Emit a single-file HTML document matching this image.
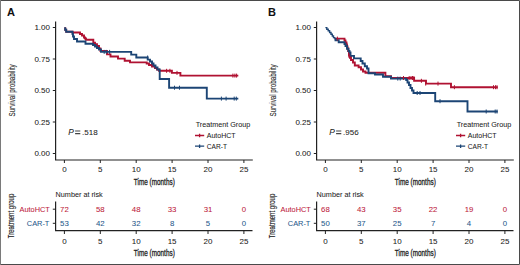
<!DOCTYPE html>
<html><head><meta charset="utf-8"><style>
html,body{margin:0;padding:0;background:#fff;}
svg{display:block;font-family:"Liberation Sans",sans-serif;}
</style></head><body>
<svg width="520" height="265" viewBox="0 0 520 265">
<rect x="0" y="0" width="520" height="265" fill="#fff"/>
<g transform="translate(0,0)">
<text x="7" y="15.6" font-size="11" font-weight="bold" fill="#111" stroke="#111" stroke-width="0.05">A</text>
<path d="M55.6,21.5 V160 H252.8" fill="none" stroke="#222" stroke-width="1.2"/>
<path d="M52.8,27.5 H55.6" stroke="#222" stroke-width="1"/>
<text x="50" y="30.3" font-size="8" text-anchor="end" fill="#222" stroke="#222" stroke-width="0.05">1.00</text>
<path d="M52.8,59.0 H55.6" stroke="#222" stroke-width="1"/>
<text x="50" y="61.8" font-size="8" text-anchor="end" fill="#222" stroke="#222" stroke-width="0.05">0.75</text>
<path d="M52.8,90.5 H55.6" stroke="#222" stroke-width="1"/>
<text x="50" y="93.3" font-size="8" text-anchor="end" fill="#222" stroke="#222" stroke-width="0.05">0.50</text>
<path d="M52.8,122.0 H55.6" stroke="#222" stroke-width="1"/>
<text x="50" y="124.8" font-size="8" text-anchor="end" fill="#222" stroke="#222" stroke-width="0.05">0.25</text>
<path d="M52.8,153.5 H55.6" stroke="#222" stroke-width="1"/>
<text x="50" y="156.3" font-size="8" text-anchor="end" fill="#222" stroke="#222" stroke-width="0.05">0.00</text>
<path d="M64.4,160 V163" stroke="#222" stroke-width="1"/>
<text x="64.4" y="172.1" font-size="8" text-anchor="middle" fill="#222" stroke="#222" stroke-width="0.05">0</text>
<path d="M100.3,160 V163" stroke="#222" stroke-width="1"/>
<text x="100.3" y="172.1" font-size="8" text-anchor="middle" fill="#222" stroke="#222" stroke-width="0.05">5</text>
<path d="M136.2,160 V163" stroke="#222" stroke-width="1"/>
<text x="136.2" y="172.1" font-size="8" text-anchor="middle" fill="#222" stroke="#222" stroke-width="0.05">10</text>
<path d="M172.1,160 V163" stroke="#222" stroke-width="1"/>
<text x="172.1" y="172.1" font-size="8" text-anchor="middle" fill="#222" stroke="#222" stroke-width="0.05">15</text>
<path d="M208.0,160 V163" stroke="#222" stroke-width="1"/>
<text x="208.0" y="172.1" font-size="8" text-anchor="middle" fill="#222" stroke="#222" stroke-width="0.05">20</text>
<path d="M243.9,160 V163" stroke="#222" stroke-width="1"/>
<text x="243.9" y="172.1" font-size="8" text-anchor="middle" fill="#222" stroke="#222" stroke-width="0.05">25</text>
<text transform="translate(154.3,185.4) scale(0.78,1)" font-size="8.2" text-anchor="middle" fill="#222" stroke="#222" stroke-width="0.28">Time (months)</text>
<text transform="translate(14.5,90.4) rotate(-90) scale(0.76,1)" font-size="8.2" text-anchor="middle" fill="#222" stroke="#222" stroke-width="0.1">Survival probability</text>
<path d="M65.2,27.3 V29.8 H66.2 V31.8 H72.5 V32.5 H80 V34 H82 V35.5 H84 V37.5 H85 V38.5 H86 V39.75 H93.3 V42.7 H95 V44.3 H97 V46 H99 V48.5 H100.5 V51 H107 V54.4 H110.5 V56.5 H118 V58.6 H124.7 V60.7 H130 V62.4 H146.7 V63.5 H149 V65 H152 V66.5 H155 V68 H157 V69.5 H159 V70.8 H171.9 V72.9 H180.4 V75.6 H238.3" fill="none" stroke="#b01232" stroke-width="1.9"/>
<path d="M65.2,27.3 V29.8 H66.2 V31.8 H72.5 V34 H73 V36.5 H74 V39 H77 V41.5 H85.5 V43.8 H93 V45 H95 V46.5 H97 V48 H99 V49.5 H101 V51.9 H131.2 V54.6 H136.3 V57.5 H147.7 V59.6 H150 V61.5 H152 V63.5 H153.5 V65.5 H155.5 V67.5 H157.5 V69.5 H159.7 V79 H169.1 V87.7 H206.8 V98.6 H238.3" fill="none" stroke="#1c4575" stroke-width="1.9"/>
<path d="M166.6,68.8 V72.8" stroke="#b01232" stroke-width="1"/>
<path d="M169.9,68.8 V72.8" stroke="#b01232" stroke-width="1"/>
<path d="M177,70.9 V74.9" stroke="#b01232" stroke-width="1"/>
<path d="M232.9,73.6 V77.6" stroke="#b01232" stroke-width="1"/>
<path d="M234.9,73.6 V77.6" stroke="#b01232" stroke-width="1"/>
<path d="M236.6,73.6 V77.6" stroke="#b01232" stroke-width="1"/>
<path d="M104.2,49.9 V53.9" stroke="#1c4575" stroke-width="1"/>
<path d="M106.3,49.9 V53.9" stroke="#1c4575" stroke-width="1"/>
<path d="M109.6,49.9 V53.9" stroke="#1c4575" stroke-width="1"/>
<path d="M147.6,55.5 V59.5" stroke="#1c4575" stroke-width="1"/>
<path d="M174.5,85.7 V89.7" stroke="#1c4575" stroke-width="1"/>
<path d="M179.5,85.7 V89.7" stroke="#1c4575" stroke-width="1"/>
<path d="M221.4,96.6 V100.6" stroke="#1c4575" stroke-width="1"/>
<path d="M226.1,96.6 V100.6" stroke="#1c4575" stroke-width="1"/>
<path d="M234.2,96.6 V100.6" stroke="#1c4575" stroke-width="1"/>
<path d="M236.3,96.6 V100.6" stroke="#1c4575" stroke-width="1"/>
<text x="68.3" y="135.2" font-size="8.4" font-style="italic" fill="#222" stroke="#222" stroke-width="0.05">P</text>
<path d="M75.1,131 H80.3 M75.1,133.6 H80.3" stroke="#444" stroke-width="1.1"/>
<text x="82.1" y="135.3" font-size="8" fill="#222" stroke="#222" stroke-width="0.05">.518</text>
<text x="195.7" y="126.9" font-size="7.6" textLength="54.6" lengthAdjust="spacingAndGlyphs" fill="#222" stroke="#222" stroke-width="0.05">Treatment Group</text>
<path d="M195,135.5 H204.2 M199.6,133.8 V137.3" stroke="#b01232" stroke-width="1.3" fill="none"/>
<text x="206.8" y="138.2" font-size="7.4" textLength="28.8" lengthAdjust="spacingAndGlyphs" fill="#222" stroke="#222" stroke-width="0.05">AutoHCT</text>
<path d="M195,146.2 H204.2 M199.6,144.4 V147.9" stroke="#1c4575" stroke-width="1.3" fill="none"/>
<text x="206.8" y="148.8" font-size="7.4" textLength="20.2" lengthAdjust="spacingAndGlyphs" fill="#222" stroke="#222" stroke-width="0.05">CAR-T</text>
<text x="55.6" y="196.5" font-size="7.25" fill="#222" stroke="#222" stroke-width="0.05">Number at risk</text>
<path d="M55.6,201.6 V230.6 H252.5" fill="none" stroke="#222" stroke-width="1.2"/>
<path d="M52.8,209.2 H55.6" stroke="#222" stroke-width="1"/>
<path d="M52.8,223.3 H55.6" stroke="#222" stroke-width="1"/>
<text x="49.9" y="211.8" font-size="7.4" text-anchor="end" fill="#bd1a3a" stroke="#bd1a3a" stroke-width="0.05">AutoHCT</text>
<text x="49.4" y="225.9" font-size="7.4" text-anchor="end" fill="#27598c" stroke="#27598c" stroke-width="0.05">CAR-T</text>
<text x="64.4" y="212" font-size="7.8" text-anchor="middle" fill="#bd1a3a" stroke="#bd1a3a" stroke-width="0.05">72</text>
<text x="64.4" y="226" font-size="7.8" text-anchor="middle" fill="#27598c" stroke="#27598c" stroke-width="0.05">53</text>
<path d="M64.4,230.5 V234" stroke="#222" stroke-width="1"/>
<text x="64.4" y="243.8" font-size="8" text-anchor="middle" fill="#222" stroke="#222" stroke-width="0.05">0</text>
<text x="100.3" y="212" font-size="7.8" text-anchor="middle" fill="#bd1a3a" stroke="#bd1a3a" stroke-width="0.05">58</text>
<text x="100.3" y="226" font-size="7.8" text-anchor="middle" fill="#27598c" stroke="#27598c" stroke-width="0.05">42</text>
<path d="M100.3,230.5 V234" stroke="#222" stroke-width="1"/>
<text x="100.3" y="243.8" font-size="8" text-anchor="middle" fill="#222" stroke="#222" stroke-width="0.05">5</text>
<text x="136.2" y="212" font-size="7.8" text-anchor="middle" fill="#bd1a3a" stroke="#bd1a3a" stroke-width="0.05">48</text>
<text x="136.2" y="226" font-size="7.8" text-anchor="middle" fill="#27598c" stroke="#27598c" stroke-width="0.05">32</text>
<path d="M136.2,230.5 V234" stroke="#222" stroke-width="1"/>
<text x="136.2" y="243.8" font-size="8" text-anchor="middle" fill="#222" stroke="#222" stroke-width="0.05">10</text>
<text x="172.1" y="212" font-size="7.8" text-anchor="middle" fill="#bd1a3a" stroke="#bd1a3a" stroke-width="0.05">33</text>
<text x="172.1" y="226" font-size="7.8" text-anchor="middle" fill="#27598c" stroke="#27598c" stroke-width="0.05">8</text>
<path d="M172.1,230.5 V234" stroke="#222" stroke-width="1"/>
<text x="172.1" y="243.8" font-size="8" text-anchor="middle" fill="#222" stroke="#222" stroke-width="0.05">15</text>
<text x="208.0" y="212" font-size="7.8" text-anchor="middle" fill="#bd1a3a" stroke="#bd1a3a" stroke-width="0.05">31</text>
<text x="208.0" y="226" font-size="7.8" text-anchor="middle" fill="#27598c" stroke="#27598c" stroke-width="0.05">5</text>
<path d="M208.0,230.5 V234" stroke="#222" stroke-width="1"/>
<text x="208.0" y="243.8" font-size="8" text-anchor="middle" fill="#222" stroke="#222" stroke-width="0.05">20</text>
<text x="243.9" y="212" font-size="7.8" text-anchor="middle" fill="#bd1a3a" stroke="#bd1a3a" stroke-width="0.05">0</text>
<text x="243.9" y="226" font-size="7.8" text-anchor="middle" fill="#27598c" stroke="#27598c" stroke-width="0.05">0</text>
<path d="M243.9,230.5 V234" stroke="#222" stroke-width="1"/>
<text x="243.9" y="243.8" font-size="8" text-anchor="middle" fill="#222" stroke="#222" stroke-width="0.05">25</text>
<text transform="translate(154.3,255.5) scale(0.78,1)" font-size="8.2" text-anchor="middle" fill="#222" stroke="#222" stroke-width="0.28">Time (months)</text>
<text transform="translate(14,216) rotate(-90) scale(0.74,1)" font-size="8.2" text-anchor="middle" fill="#222" stroke="#222" stroke-width="0.12">Treatment group</text>
</g>
<g transform="translate(261,0)">
<text x="7" y="15.6" font-size="11" font-weight="bold" fill="#111" stroke="#111" stroke-width="0.05">B</text>
<path d="M55.6,21.5 V160 H252.8" fill="none" stroke="#222" stroke-width="1.2"/>
<path d="M52.8,27.5 H55.6" stroke="#222" stroke-width="1"/>
<text x="50" y="30.3" font-size="8" text-anchor="end" fill="#222" stroke="#222" stroke-width="0.05">1.00</text>
<path d="M52.8,59.0 H55.6" stroke="#222" stroke-width="1"/>
<text x="50" y="61.8" font-size="8" text-anchor="end" fill="#222" stroke="#222" stroke-width="0.05">0.75</text>
<path d="M52.8,90.5 H55.6" stroke="#222" stroke-width="1"/>
<text x="50" y="93.3" font-size="8" text-anchor="end" fill="#222" stroke="#222" stroke-width="0.05">0.50</text>
<path d="M52.8,122.0 H55.6" stroke="#222" stroke-width="1"/>
<text x="50" y="124.8" font-size="8" text-anchor="end" fill="#222" stroke="#222" stroke-width="0.05">0.25</text>
<path d="M52.8,153.5 H55.6" stroke="#222" stroke-width="1"/>
<text x="50" y="156.3" font-size="8" text-anchor="end" fill="#222" stroke="#222" stroke-width="0.05">0.00</text>
<path d="M64.4,160 V163" stroke="#222" stroke-width="1"/>
<text x="64.4" y="172.1" font-size="8" text-anchor="middle" fill="#222" stroke="#222" stroke-width="0.05">0</text>
<path d="M100.3,160 V163" stroke="#222" stroke-width="1"/>
<text x="100.3" y="172.1" font-size="8" text-anchor="middle" fill="#222" stroke="#222" stroke-width="0.05">5</text>
<path d="M136.2,160 V163" stroke="#222" stroke-width="1"/>
<text x="136.2" y="172.1" font-size="8" text-anchor="middle" fill="#222" stroke="#222" stroke-width="0.05">10</text>
<path d="M172.1,160 V163" stroke="#222" stroke-width="1"/>
<text x="172.1" y="172.1" font-size="8" text-anchor="middle" fill="#222" stroke="#222" stroke-width="0.05">15</text>
<path d="M208.0,160 V163" stroke="#222" stroke-width="1"/>
<text x="208.0" y="172.1" font-size="8" text-anchor="middle" fill="#222" stroke="#222" stroke-width="0.05">20</text>
<path d="M243.9,160 V163" stroke="#222" stroke-width="1"/>
<text x="243.9" y="172.1" font-size="8" text-anchor="middle" fill="#222" stroke="#222" stroke-width="0.05">25</text>
<text transform="translate(154.3,185.4) scale(0.78,1)" font-size="8.2" text-anchor="middle" fill="#222" stroke="#222" stroke-width="0.28">Time (months)</text>
<text transform="translate(14.5,90.4) rotate(-90) scale(0.76,1)" font-size="8.2" text-anchor="middle" fill="#222" stroke="#222" stroke-width="0.1">Survival probability</text>
<path d="M73.5,38.6 H83.5 V40.5 H84.5 V42.5 H85.5 V44.5 H86 V46.5 H86.5 V48.5 H87.2 V51 H88 V54.7 H88.5 V57 H90 V60 H92 V62.5 H93.8 V65.5 H97.6 V67.2 H100 V69.5 H102 V71.5 H104.5 V72.8 H124.4 V76.2 H130 V78 H153.1 V80.8 H165 V83.6 H190 V87.2 H236.8" fill="none" stroke="#b01232" stroke-width="1.9"/>
<path d="M73.5,38.6 H74.5 V40.3 H77.7 V42.3 H83.5 V44 H84.5 V46 H86 V48.8 H87.5 V51 H88.5 V52.5 H89.5 V55.9 H93 V58.4 H99.7 V61 H101.5 V63.5 H103.8 V66.3 H106 V68.5 H107.5 V73.2 H114 V74.5 H122 V76.7 H130 V78.6 H145.2 V80 H146.5 V82.5 H148 V85 H149.5 V88 H151 V90.5 H152.5 V93 H174.2 V101.2 H206.5 V111.5 H236.8" fill="none" stroke="#1c4575" stroke-width="1.9"/>
<path d="M64.4,27.6 H65.8 V29.2 H67.2 V30.8 H68.6 V32.5 H70 V34.3 H71.3 V36 H72.5 V37.6 H73.5 V38.6" fill="none" stroke="#1c4575" stroke-width="1.4"/>
<path d="M76.4,36.6 V40.6" stroke="#b01232" stroke-width="1"/>
<path d="M87.7,52.7 V56.7" stroke="#b01232" stroke-width="1"/>
<path d="M88.7,55 V59" stroke="#b01232" stroke-width="1"/>
<path d="M142.5,76 V80" stroke="#b01232" stroke-width="1"/>
<path d="M148.2,76 V80" stroke="#b01232" stroke-width="1"/>
<path d="M150,76 V80" stroke="#b01232" stroke-width="1"/>
<path d="M151.5,76 V80" stroke="#b01232" stroke-width="1"/>
<path d="M152.9,76 V80" stroke="#b01232" stroke-width="1"/>
<path d="M160.4,78.8 V82.8" stroke="#b01232" stroke-width="1"/>
<path d="M164.7,81.6 V85.6" stroke="#b01232" stroke-width="1"/>
<path d="M177,81.6 V85.6" stroke="#b01232" stroke-width="1"/>
<path d="M193.4,85.2 V89.2" stroke="#b01232" stroke-width="1"/>
<path d="M232.5,85.2 V89.2" stroke="#b01232" stroke-width="1"/>
<path d="M234.5,85.2 V89.2" stroke="#b01232" stroke-width="1"/>
<path d="M236,85.2 V89.2" stroke="#b01232" stroke-width="1"/>
<path d="M136.8,76.6 V80.6" stroke="#1c4575" stroke-width="1"/>
<path d="M139.2,76.6 V80.6" stroke="#1c4575" stroke-width="1"/>
<path d="M156.2,91 V95" stroke="#1c4575" stroke-width="1"/>
<path d="M159,91 V95" stroke="#1c4575" stroke-width="1"/>
<path d="M179,99.2 V103.2" stroke="#1c4575" stroke-width="1"/>
<path d="M225.2,109.5 V113.5" stroke="#1c4575" stroke-width="1"/>
<path d="M234.2,109.5 V113.5" stroke="#1c4575" stroke-width="1"/>
<path d="M236,109.5 V113.5" stroke="#1c4575" stroke-width="1"/>
<text x="68.3" y="135.2" font-size="8.4" font-style="italic" fill="#222" stroke="#222" stroke-width="0.05">P</text>
<path d="M75.1,131 H80.3 M75.1,133.6 H80.3" stroke="#444" stroke-width="1.1"/>
<text x="82.1" y="135.3" font-size="8" fill="#222" stroke="#222" stroke-width="0.05">.956</text>
<text x="195.7" y="126.9" font-size="7.6" textLength="54.6" lengthAdjust="spacingAndGlyphs" fill="#222" stroke="#222" stroke-width="0.05">Treatment Group</text>
<path d="M195,135.5 H204.2 M199.6,133.8 V137.3" stroke="#b01232" stroke-width="1.3" fill="none"/>
<text x="206.8" y="138.2" font-size="7.4" textLength="28.8" lengthAdjust="spacingAndGlyphs" fill="#222" stroke="#222" stroke-width="0.05">AutoHCT</text>
<path d="M195,146.2 H204.2 M199.6,144.4 V147.9" stroke="#1c4575" stroke-width="1.3" fill="none"/>
<text x="206.8" y="148.8" font-size="7.4" textLength="20.2" lengthAdjust="spacingAndGlyphs" fill="#222" stroke="#222" stroke-width="0.05">CAR-T</text>
<text x="55.6" y="196.5" font-size="7.25" fill="#222" stroke="#222" stroke-width="0.05">Number at risk</text>
<path d="M55.6,201.6 V230.6 H252.5" fill="none" stroke="#222" stroke-width="1.2"/>
<path d="M52.8,209.2 H55.6" stroke="#222" stroke-width="1"/>
<path d="M52.8,223.3 H55.6" stroke="#222" stroke-width="1"/>
<text x="49.9" y="211.8" font-size="7.4" text-anchor="end" fill="#bd1a3a" stroke="#bd1a3a" stroke-width="0.05">AutoHCT</text>
<text x="49.4" y="225.9" font-size="7.4" text-anchor="end" fill="#27598c" stroke="#27598c" stroke-width="0.05">CAR-T</text>
<text x="64.4" y="212" font-size="7.8" text-anchor="middle" fill="#bd1a3a" stroke="#bd1a3a" stroke-width="0.05">68</text>
<text x="64.4" y="226" font-size="7.8" text-anchor="middle" fill="#27598c" stroke="#27598c" stroke-width="0.05">50</text>
<path d="M64.4,230.5 V234" stroke="#222" stroke-width="1"/>
<text x="64.4" y="243.8" font-size="8" text-anchor="middle" fill="#222" stroke="#222" stroke-width="0.05">0</text>
<text x="100.3" y="212" font-size="7.8" text-anchor="middle" fill="#bd1a3a" stroke="#bd1a3a" stroke-width="0.05">43</text>
<text x="100.3" y="226" font-size="7.8" text-anchor="middle" fill="#27598c" stroke="#27598c" stroke-width="0.05">37</text>
<path d="M100.3,230.5 V234" stroke="#222" stroke-width="1"/>
<text x="100.3" y="243.8" font-size="8" text-anchor="middle" fill="#222" stroke="#222" stroke-width="0.05">5</text>
<text x="136.2" y="212" font-size="7.8" text-anchor="middle" fill="#bd1a3a" stroke="#bd1a3a" stroke-width="0.05">35</text>
<text x="136.2" y="226" font-size="7.8" text-anchor="middle" fill="#27598c" stroke="#27598c" stroke-width="0.05">25</text>
<path d="M136.2,230.5 V234" stroke="#222" stroke-width="1"/>
<text x="136.2" y="243.8" font-size="8" text-anchor="middle" fill="#222" stroke="#222" stroke-width="0.05">10</text>
<text x="172.1" y="212" font-size="7.8" text-anchor="middle" fill="#bd1a3a" stroke="#bd1a3a" stroke-width="0.05">22</text>
<text x="172.1" y="226" font-size="7.8" text-anchor="middle" fill="#27598c" stroke="#27598c" stroke-width="0.05">7</text>
<path d="M172.1,230.5 V234" stroke="#222" stroke-width="1"/>
<text x="172.1" y="243.8" font-size="8" text-anchor="middle" fill="#222" stroke="#222" stroke-width="0.05">15</text>
<text x="208.0" y="212" font-size="7.8" text-anchor="middle" fill="#bd1a3a" stroke="#bd1a3a" stroke-width="0.05">19</text>
<text x="208.0" y="226" font-size="7.8" text-anchor="middle" fill="#27598c" stroke="#27598c" stroke-width="0.05">4</text>
<path d="M208.0,230.5 V234" stroke="#222" stroke-width="1"/>
<text x="208.0" y="243.8" font-size="8" text-anchor="middle" fill="#222" stroke="#222" stroke-width="0.05">20</text>
<text x="243.9" y="212" font-size="7.8" text-anchor="middle" fill="#bd1a3a" stroke="#bd1a3a" stroke-width="0.05">0</text>
<text x="243.9" y="226" font-size="7.8" text-anchor="middle" fill="#27598c" stroke="#27598c" stroke-width="0.05">0</text>
<path d="M243.9,230.5 V234" stroke="#222" stroke-width="1"/>
<text x="243.9" y="243.8" font-size="8" text-anchor="middle" fill="#222" stroke="#222" stroke-width="0.05">25</text>
<text transform="translate(154.3,255.5) scale(0.78,1)" font-size="8.2" text-anchor="middle" fill="#222" stroke="#222" stroke-width="0.28">Time (months)</text>
<text transform="translate(14,216) rotate(-90) scale(0.74,1)" font-size="8.2" text-anchor="middle" fill="#222" stroke="#222" stroke-width="0.12">Treatment group</text>
</g>
<path d="M0,0.5 H519.5 V264.5 H0" fill="none" stroke="#4a4a4a" stroke-width="1"/>
<path d="M0.5,0 V265" stroke="#7a7a7a" stroke-width="1"/>
</svg>
</body></html>
